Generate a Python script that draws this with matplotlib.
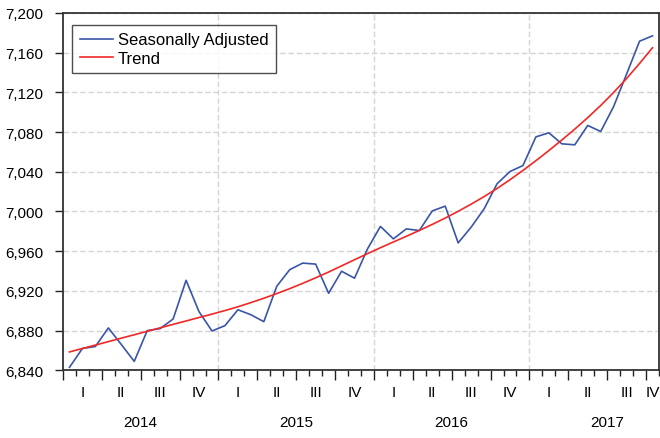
import numpy as np
import matplotlib
matplotlib.use("Agg")
import matplotlib.pyplot as plt

plt.rcParams['font.family'] = ['Liberation Sans', 'DejaVu Sans']

# monthly data, Jan 2014 .. Oct 2017
seas_adj = [6843, 6862, 6864, 6882.7, 6866, 6849, 6880, 6882, 6891.7, 6930.7, 6899, 6879.6,
            6885, 6901, 6896, 6889, 6924.7, 6941.4, 6948, 6947, 6917.6, 6939.8, 6932.8, 6962.3,
            6985, 6972.4, 6982.5, 6980.8, 7000.6, 7005.4, 6968.4, 6984.2, 7002.6, 7027.9, 7040.3, 7046.3,
            7075.2, 7079.3, 7068.2, 7067.2, 7086.7, 7080.6, 7105.8, 7138.5, 7171.6, 7177]
trend = [6858.5, 6862.0, 6865.4, 6868.9, 6872.4, 6875.8, 6879.3, 6882.8, 6886.3, 6889.7, 6893.2, 6896.6,
         6900.2, 6904.0, 6908.2, 6912.6, 6917.3, 6922.3, 6927.6, 6933.2, 6939.0, 6945.2, 6951.4, 6957.5,
         6963.5, 6969.3, 6975.0, 6980.9, 6987.0, 6993.4, 7000.2, 7007.4, 7015.0, 7023.2, 7032.0, 7041.4,
         7051.2, 7061.4, 7072.0, 7083.0, 7094.6, 7106.8, 7120.0, 7134.0, 7149.2, 7165.0]
years = ['2014', '2015', '2016', '2017']
quarters = ['I', 'II', 'III', 'IV']

n_months = len(seas_adj)
x = np.arange(n_months) + 0.5  # points sit mid-month

fig = plt.figure(figsize=(6.6, 4.39), dpi=100)
ax = fig.add_axes([63/660, (439-371.3)/439, 596/660, 357.3/439])

ax.plot(x, seas_adj, color='#3a55a8', lw=1.2, label='Seasonally Adjusted')
ax.plot(x, trend, color='#f02828', lw=1.2, label='Trend')

ax.set_xlim(0, n_months)
ax.set_ylim(6840, 7200)
ax.set_yticks(np.arange(6840, 7201, 40))
ax.set_yticklabels([f'{v:,}' for v in range(6840, 7201, 40)])
ax.yaxis.grid(True, color='#d4d4d4', ls=(0, (4, 2)), lw=1)
ax.set_axisbelow(True)
for yb in range(1, len(years)):
    ax.axvline(12*yb, color='#d4d4d4', ls=(0, (4, 2)), lw=1, zorder=0)

# month ticks (minor) and quarter ticks (major), labels drawn by hand
ax.set_xticks(np.arange(0, n_months + 1, 3))
ax.set_xticks(np.arange(0, n_months + 1), minor=True)
ax.set_xticklabels([])
ax.tick_params(axis='x', which='major', length=7, width=1, color='#222222')
ax.tick_params(axis='x', which='minor', length=4, width=1, color='#222222')
ax.tick_params(axis='y', length=6, width=1, pad=8, labelsize=11, color='#222222')

for sp in ax.spines.values():
    sp.set_color('#333333')
    sp.set_linewidth(1.3)

trans = ax.get_xaxis_transform()
for yi, yr in enumerate(years):
    for qi, q in enumerate(quarters):
        xq = 12*yi + 3*qi + 1.5
        if xq > n_months:
            xq = n_months - 0.5
        ax.text(xq, -0.06, q, transform=trans, ha='center', va='center', fontsize=11)
    xc = 12*yi + 6
    if xc > n_months - 4:
        xc = 41.5
    ax.text(xc, -0.145, yr, transform=trans, ha='center', va='center', fontsize=11)

leg = ax.legend(loc='upper left', bbox_to_anchor=(9/596, 1 - 12/357.3), fontsize=12,
                frameon=True, fancybox=False, handlelength=2.0, handletextpad=0.3,
                borderpad=0.45, labelspacing=0.2, borderaxespad=0)
leg.get_frame().set_edgecolor('#222222')
leg.get_frame().set_linewidth(1)

fig.savefig('out.png', dpi=100)
